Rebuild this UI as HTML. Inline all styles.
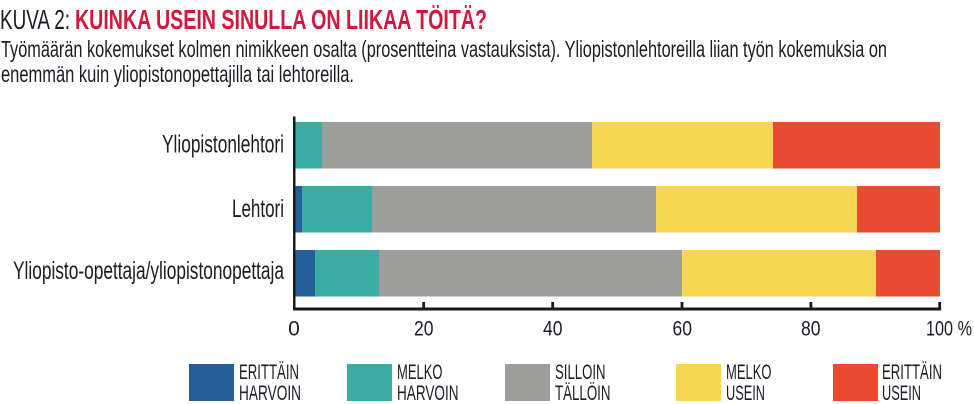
<!DOCTYPE html>
<html><head><meta charset="utf-8"><style>
html,body{margin:0;padding:0;background:#fff;}
svg{display:block;}
text{font-family:"Liberation Sans","DejaVu Sans",sans-serif;fill:#1c1c24;}
</style></head><body>
<svg width="974" height="404" viewBox="0 0 974 404" xmlns="http://www.w3.org/2000/svg">
<rect width="974" height="404" fill="#fff"/>
<!-- title -->
<text x="0" y="29" font-size="28" textLength="70" lengthAdjust="spacingAndGlyphs">KUVA 2:</text>
<text x="75" y="29" font-size="28" font-weight="bold" style="fill:#d3173f" textLength="412" lengthAdjust="spacingAndGlyphs">KUINKA USEIN SINULLA ON LIIKAA TÖITÄ?</text>
<text x="1" y="57" font-size="23" textLength="886" lengthAdjust="spacingAndGlyphs">Työmäärän kokemukset kolmen nimikkeen osalta (prosentteina vastauksista). Yliopistonlehtoreilla liian työn kokemuksia on</text>
<text x="1" y="82" font-size="23" textLength="353" lengthAdjust="spacingAndGlyphs">enemmän kuin yliopistonopettajilla tai lehtoreilla.</text>
<!-- row labels -->
<text x="162" y="152.5" font-size="25" textLength="122" lengthAdjust="spacingAndGlyphs">Yliopistonlehtori</text>
<text x="232" y="217" font-size="25" textLength="52" lengthAdjust="spacingAndGlyphs">Lehtori</text>
<text x="13" y="279" font-size="25" textLength="271" lengthAdjust="spacingAndGlyphs">Yliopisto-opettaja/yliopistonopettaja</text>
<!-- bars row1 -->
<rect x="295" y="122" width="27" height="46.5" fill="#3aaca2"/>
<rect x="322" y="122" width="270" height="46.5" fill="#9d9d9c"/>
<rect x="592" y="122" width="181" height="46.5" fill="#f6d652"/>
<rect x="773" y="122" width="167" height="46.5" fill="#e84b31"/>
<!-- row2 -->
<rect x="295" y="186" width="7" height="46.5" fill="#255e98"/>
<rect x="302" y="186" width="70" height="46.5" fill="#3aaca2"/>
<rect x="372" y="186" width="284" height="46.5" fill="#9d9d9c"/>
<rect x="656" y="186" width="201" height="46.5" fill="#f6d652"/>
<rect x="857" y="186" width="83" height="46.5" fill="#e84b31"/>
<!-- row3 -->
<rect x="295" y="250" width="20" height="46.5" fill="#255e98"/>
<rect x="315" y="250" width="64" height="46.5" fill="#3aaca2"/>
<rect x="379" y="250" width="303" height="46.5" fill="#9d9d9c"/>
<rect x="682" y="250" width="194" height="46.5" fill="#f6d652"/>
<rect x="876" y="250" width="64" height="46.5" fill="#e84b31"/>
<!-- axes -->
<rect x="293" y="116.5" width="2.5" height="194" fill="#1a1a1a"/>
<rect x="293" y="307.5" width="648" height="3" fill="#1a1a1a"/>
<rect x="422.3" y="302" width="2.8" height="8" fill="#1a1a1a"/>
<rect x="551.3" y="302" width="2.8" height="8" fill="#1a1a1a"/>
<rect x="680.6" y="302" width="2.8" height="8" fill="#1a1a1a"/>
<rect x="809.5" y="302" width="2.8" height="8" fill="#1a1a1a"/>
<rect x="938.3" y="302" width="2.8" height="8" fill="#1a1a1a"/>
<!-- tick labels -->
<text x="294" y="335.5" font-size="21" text-anchor="middle">0</text>
<text x="414" y="335.5" font-size="21" textLength="19.5" lengthAdjust="spacingAndGlyphs">20</text>
<text x="543" y="335.5" font-size="21" textLength="19.5" lengthAdjust="spacingAndGlyphs">40</text>
<text x="672.5" y="335.5" font-size="21" textLength="19.5" lengthAdjust="spacingAndGlyphs">60</text>
<text x="801" y="335.5" font-size="21" textLength="19.5" lengthAdjust="spacingAndGlyphs">80</text>
<text x="926" y="335.5" font-size="21" textLength="46" lengthAdjust="spacingAndGlyphs">100 %</text>
<!-- legend -->
<rect x="189" y="364" width="45" height="37" fill="#255e98"/>
<text x="239" y="379" font-size="21" textLength="60" lengthAdjust="spacingAndGlyphs">ERITTÄIN</text>
<text x="239" y="400" font-size="21" textLength="62" lengthAdjust="spacingAndGlyphs">HARVOIN</text>
<rect x="347" y="364" width="45" height="37" fill="#3aaca2"/>
<text x="397" y="379" font-size="21" textLength="45.5" lengthAdjust="spacingAndGlyphs">MELKO</text>
<text x="397" y="400" font-size="21" textLength="61.5" lengthAdjust="spacingAndGlyphs">HARVOIN</text>
<rect x="505" y="364" width="45" height="37" fill="#9d9d9c"/>
<text x="555" y="379" font-size="21" textLength="50.5" lengthAdjust="spacingAndGlyphs">SILLOIN</text>
<text x="555" y="400" font-size="21" textLength="55.5" lengthAdjust="spacingAndGlyphs">TÄLLÖIN</text>
<rect x="676" y="364" width="45" height="37" fill="#f6d652"/>
<text x="726" y="379" font-size="21" textLength="45.5" lengthAdjust="spacingAndGlyphs">MELKO</text>
<text x="726" y="400" font-size="21" textLength="39" lengthAdjust="spacingAndGlyphs">USEIN</text>
<rect x="833" y="364" width="45" height="37" fill="#e84b31"/>
<text x="882" y="379" font-size="21" textLength="60" lengthAdjust="spacingAndGlyphs">ERITTÄIN</text>
<text x="882" y="400" font-size="21" textLength="39" lengthAdjust="spacingAndGlyphs">USEIN</text>
</svg>
</body></html>
